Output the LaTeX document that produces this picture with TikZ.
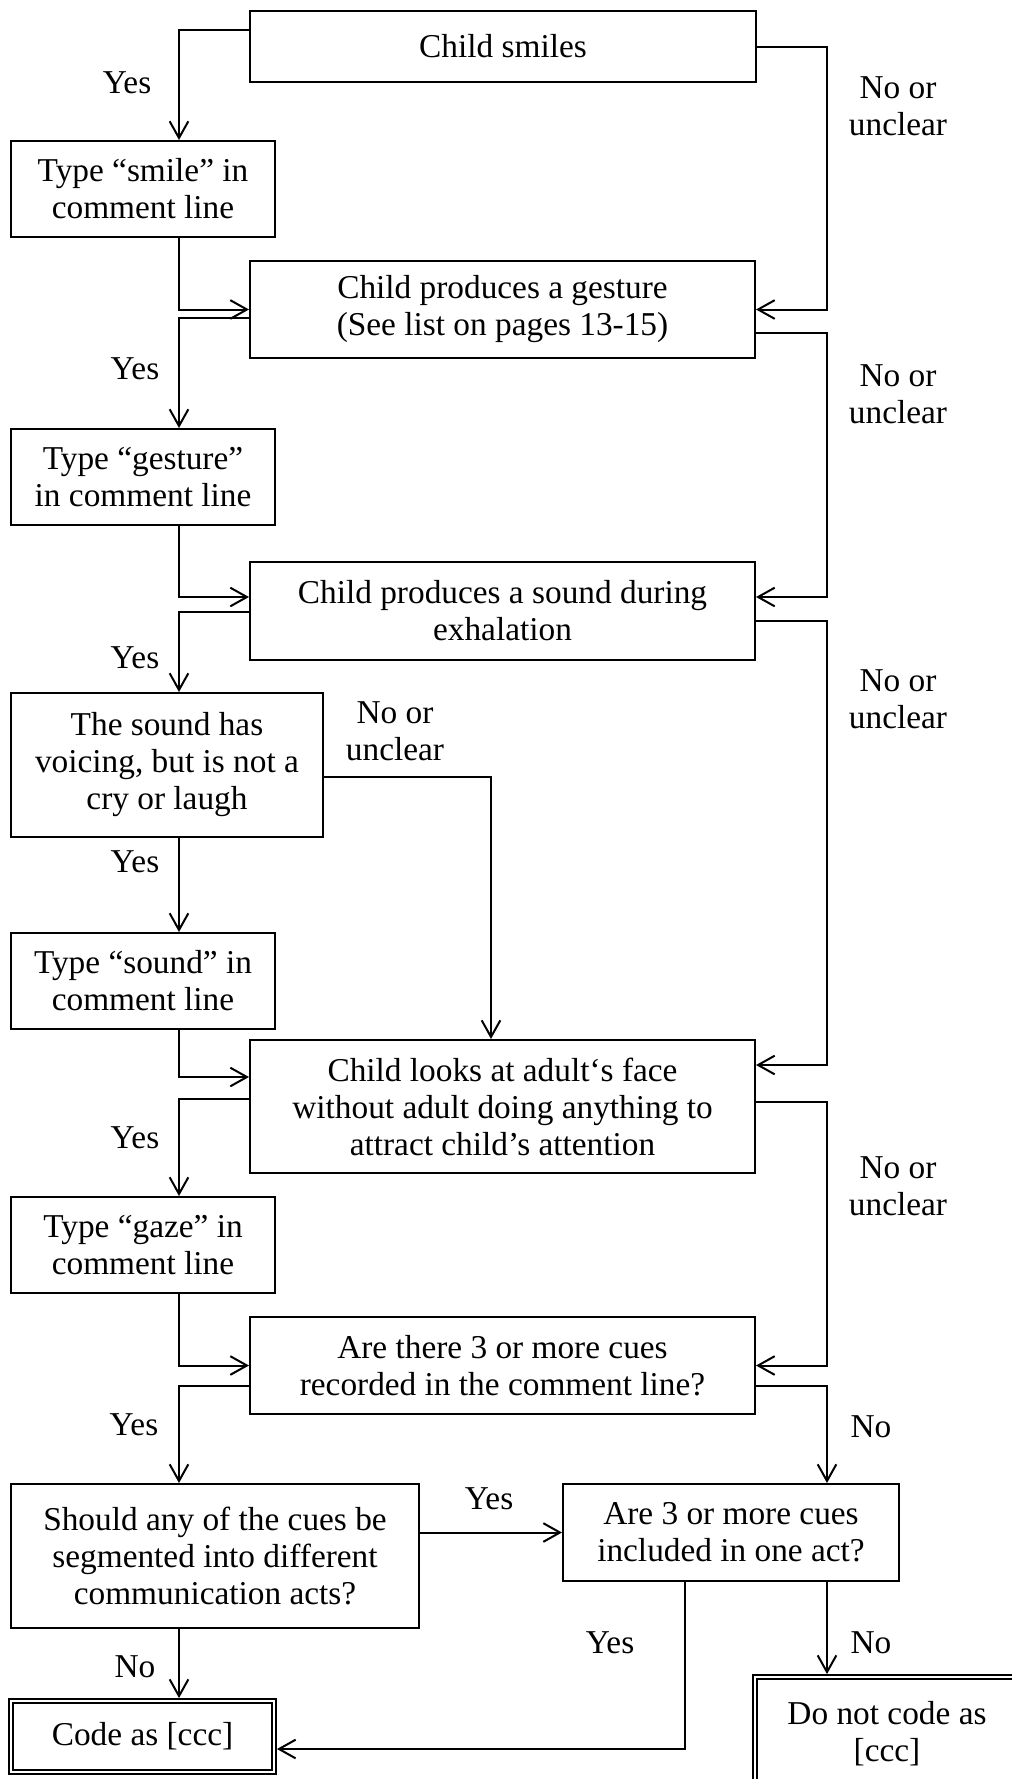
\documentclass[tikz,border=0pt]{standalone}
\usepackage{fontspec}
\setmainfont{Liberation Serif}
\usetikzlibrary{calc}
\usetikzlibrary{arrows.meta}
\tikzstyle{qbox} = [draw, line width=1.5pt, inner sep=0pt, align=center, font=\fontsize{25}{27.75}\selectfont]
\tikzstyle{endbox} = [qbox, double, double distance=2pt, line width=1.2pt, outer sep=2.2pt]
\tikzstyle{lbl} = [inner sep=0pt, align=center, font=\fontsize{25}{27.75}\selectfont]
\tikzstyle{flow} = [draw, line width=1.5pt, -{Straight Barb[length=12.5pt, width=14pt]}]

\begin{document}
\begin{tikzpicture}[x=0.75pt, y=-0.75pt]
    \useasboundingbox (0,0) rectangle (1012,1779);

    % lanes for the connectors
    \coordinate (lanel) at (179,0);
    \coordinate (laner) at (827,0);
    \coordinate (lanev) at (491,0);
    \coordinate (laney) at (685,0);

    % questions
    \node[qbox, minimum width=379.5pt, minimum height=53.25pt] (smile_q) at (503,46.5) {Child smiles};
    \node[qbox, minimum width=378.75pt, minimum height=72.75pt] (gest_q) at (502.5,309.5) {Child produces a gesture\\(See list on pages 13-15)};
    \node[qbox, minimum width=378.75pt, minimum height=73.5pt] (sound_q) at (502.5,611) {Child produces a sound during\\exhalation};
    \node[qbox, minimum width=234pt, minimum height=108pt] (voice_q) at (167,765) {The sound has\\voicing, but is not a\\cry or laugh};
    \node[qbox, minimum width=378.75pt, minimum height=99.75pt] (look_q) at (502.5,1106.5) {Child looks at adult‘s face\\without adult doing anything to\\attract child’s attention};
    \node[qbox, minimum width=378.75pt, minimum height=72.75pt] (cues_q) at (502.5,1365.5) {Are there 3 or more cues\\recorded in the comment line?};
    \node[qbox, minimum width=306pt, minimum height=108pt] (seg_q) at (215,1556) {Should any of the cues be\\segmented into different\\communication acts?};
    \node[qbox, minimum width=252pt, minimum height=72.75pt] (act_q) at (731,1532.5) {Are 3 or more cues\\included in one act?};

    % comment line boxes
    \node[qbox, minimum width=198pt, minimum height=72pt] (smile_t) at (143,189) {Type “smile” in\\comment line};
    \node[qbox, minimum width=198pt, minimum height=72pt] (gest_t) at (143,477) {Type “gesture”\\in comment line};
    \node[qbox, minimum width=198pt, minimum height=72pt] (sound_t) at (143,981) {Type “sound” in\\comment line};
    \node[qbox, minimum width=198pt, minimum height=72pt] (gaze_t) at (143,1245) {Type “gaze” in\\comment line};

    % outcomes
    \node[endbox, minimum width=197.25pt, minimum height=53.25pt] (code_yes) at (142.5,1736.5) {Code as [ccc]};
    \node[endbox, minimum width=198pt, minimum height=85.5pt] (code_no) at (887,1734) {Do not code as\\{[ccc]}};

    % ports
    \coordinate (sound_in) at ($(sound_q.east)+(0,-14)$);
    \coordinate (look_in) at ($(look_q.east)+(0,-41.5)$);
    \coordinate (gest_out) at ($(gest_q.east)+(0,23.5)$);
    \coordinate (sound_out) at ($(sound_q.east)+(0,10)$);
    \coordinate (look_out) at ($(look_q.east)+(0,-4.5)$);
    \coordinate (cues_out) at ($(cues_q.east)+(0,20.5)$);

    % yes path on the left
    \draw[flow] ($(smile_q.west)+(0,-16.5)$) -| (smile_t.north -| lanel);
    \draw[flow] (smile_t.south -| lanel) |- (gest_q.west);
    \draw[flow] ($(gest_q.west)+(0,8.5)$) -| (gest_t.north -| lanel);
    \draw[flow] (gest_t.south -| lanel) |- ($(sound_q.west)+(0,-14)$);
    \draw[flow] ($(sound_q.west)+(0,1)$) -| (voice_q.north -| lanel);
    \draw[flow] (voice_q.south -| lanel) -- (sound_t.north -| lanel);
    \draw[flow] (sound_t.south -| lanel) |- ($(look_q.west)+(0,-29.5)$);
    \draw[flow] ($(look_q.west)+(0,-7.5)$) -| (gaze_t.north -| lanel);
    \draw[flow] (gaze_t.south -| lanel) |- (cues_q.west);
    \draw[flow] ($(cues_q.west)+(0,20.5)$) -| (seg_q.north -| lanel);
    \draw[flow] (seg_q.south -| lanel) -- (code_yes.north -| lanel);

    % no path on the right
    \draw[flow] (smile_q.east) -| (laner |- gest_q.east) -- (gest_q.east);
    \draw[flow] (gest_out) -| (laner |- sound_in) -- (sound_in);
    \draw[flow] (sound_out) -| (laner |- look_in) -- (look_in);
    \draw[flow] ($(voice_q.east)+(0,12)$) -| (look_q.north -| lanev);
    \draw[flow] (look_out) -| (laner |- cues_q.east) -- (cues_q.east);
    \draw[flow] (cues_out) -| (act_q.north -| laner);

    % last questions
    \draw[flow] (seg_q.east |- act_q.west) -- (act_q.west);
    \draw[flow] (act_q.south -| laney) |- ($(code_yes.east)+(0,12.5)$);
    \draw[flow] (act_q.south -| laner) -- (code_no.north -| laner);

    % labels
    \node[lbl] (yes_a) at (127,83) {Yes};
    \node[lbl] (yes_b) at (135,369) {Yes};
    \node[lbl] (yes_c) at (135,658) {Yes};
    \node[lbl] (yes_d) at (135,862) {Yes};
    \node[lbl] (yes_e) at (135,1138) {Yes};
    \node[lbl] (yes_f) at (134,1425) {Yes};
    \node[lbl] (yes_g) at (489,1499) {Yes};
    \node[lbl] (yes_h) at (610,1643) {Yes};
    \node[lbl] (no_a) at (135,1667) {No};
    \node[lbl] (no_b) at (871,1643) {No};
    \node[lbl] (no_c) at (871,1427) {No};
    \node[lbl] (nu_a) at (898,106) {No or\\unclear};
    \node[lbl] (nu_b) at (898,394) {No or\\unclear};
    \node[lbl] (nu_c) at (898,699) {No or\\unclear};
    \node[lbl] (nu_d) at (898,1186) {No or\\unclear};
    \node[lbl] (nu_e) at (395,731) {No or\\unclear};
\end{tikzpicture}
\end{document}
